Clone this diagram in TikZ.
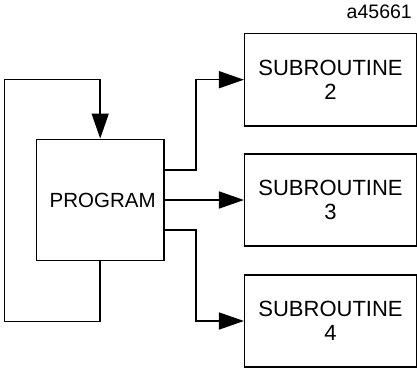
\documentclass[tikz,border=0pt]{standalone}
\usepackage{fontspec}
\setmainfont{Liberation Sans}
\usetikzlibrary{arrows.meta}

\tikzset{every picture/.style={line width=0.75pt}}
\tikzset{
  blockbox/.style={draw, line width=1.5, rectangle, inner sep=0pt, align=center, font=\fontsize{22}{24}\selectfont},
  flowline/.style={line width=1.5, -{Triangle[length=25pt,width=17pt]}}
}

\begin{document}
\begin{tikzpicture}[x=1pt,y=1pt,yscale=-1,xscale=1]
\useasboundingbox (0,0) rectangle (417,369);

%Shape: Rectangle [program]
\node [blockbox, minimum width=127.7, minimum height=121.4, font=\fontsize{20.5}{24}\selectfont] (prog) at (100.2,200) {\hspace*{5pt}PROGRAM};
%Shape: Rectangle [subroutines]
\node [blockbox, minimum width=171.6, minimum height=92.7] (sub2) at (330.5,79.7) {SUBROUTINE\\2};
\node [blockbox, minimum width=171.6, minimum height=92.3] (sub3) at (330.5,200) {SUBROUTINE\\3};
\node [blockbox, minimum width=171.6, minimum height=91.7] (sub4) at (330.5,321) {SUBROUTINE\\4};

%Straight Lines [loop back]
\coordinate (loopbot) at (4.3,321.7);
\coordinate (looptop) at (4.3,79.3);
\draw [flowline] (prog.south) |- (loopbot) -- (looptop) -| (prog.north);
%Straight Lines [calls]
\draw [flowline] ([yshift=-30pt]prog.east) -| ([xshift=-48pt]sub2.west) -- (sub2.west);
\draw [flowline] (prog.east) -- (sub3.west);
\draw [flowline] ([yshift=30pt]prog.east) -| ([xshift=-48pt]sub4.west) -- (sub4.west);

% Text Node
\draw (415.5,18.5) node [anchor=base east, font=\fontsize{19.5}{22}\selectfont] (figid) {a45661};

\end{tikzpicture}
\end{document}
